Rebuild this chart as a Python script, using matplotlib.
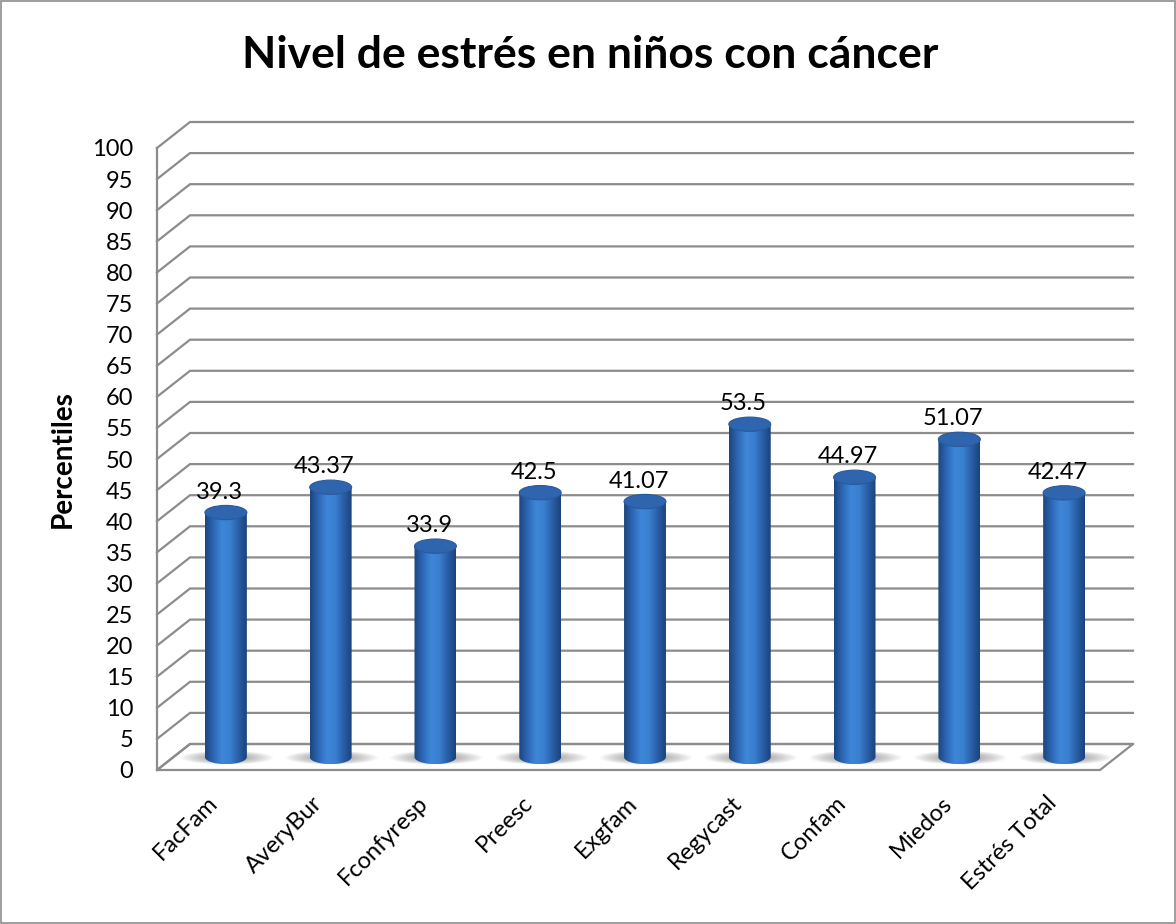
import numpy as np
import matplotlib
matplotlib.use('Agg')
import matplotlib.pyplot as plt
from matplotlib.patches import Ellipse, Polygon, Rectangle
from matplotlib.colors import LinearSegmentedColormap

# ==================== datos ====================
categorias = ['FacFam', 'AveryBur', 'Fconfyresp', 'Preesc', 'Exgfam',
              'Regycast', 'Confam', 'Miedos', 'Estrés Total']
percentiles = [39.3, 43.37, 33.9, 42.5, 41.07, 53.5, 44.97, 51.07, 42.47]
etiquetas = ['39.3', '43.37', '33.9', '42.5', '41.07', '53.5', '44.97', '51.07', '42.47']
yticks = list(range(0, 101, 5))

titulo = 'Nivel de estrés en niños con cáncer'
ylabel = 'Percentiles'

# ==================== estilo ====================
FONT = ['Lato', 'DejaVu Sans']
GRIS = '#8c8c8c'
DX, DY = 0.315, 4.18          # profundidad del efecto 3D (unidades de datos)
HW = 0.20                     # medio ancho del cilindro
EH = 1.15                     # medio alto de la elipse

plt.rcParams['font.family'] = FONT

fig = plt.figure(figsize=(11.76, 9.24), dpi=100)
ax = fig.add_axes([157 / 1176, 154 / 924, 943 / 1176, 622 / 924])
n = len(categorias)
ax.set_xlim(-0.5, n - 0.5)
ax.set_ylim(0, 100)
for s in ax.spines.values():
    s.set_visible(False)

# suelo
x0, x1 = -0.5, n - 0.5
suelo = Polygon([(x0, 0), (x1, 0), (x1 + DX, DY), (x0 + DX, DY)], closed=True,
                facecolor='white', edgecolor=GRIS, lw=1.6, zorder=1, clip_on=False)
ax.add_patch(suelo)

# lineas de la pared del fondo y de la pared izquierda
for v in yticks:
    ax.plot([x0, x0 + DX, x1 + DX], [v, v + DY, v + DY], color=GRIS, lw=1.6,
            zorder=1.5, clip_on=False, solid_joinstyle='miter')
ax.plot([x0, x0], [0, 100], color=GRIS, lw=1.6, zorder=2, clip_on=False)

# cilindros
cmap = LinearSegmentedColormap.from_list(
    'cil', ['#1c467f', '#2c66b4', '#3d86d8', '#3a80d0', '#2a5fa8', '#1b437a'])
grad = np.linspace(0, 1, 128).reshape(1, -1)
t = np.linspace(np.pi, 2 * np.pi, 40)

for i, v in enumerate(percentiles):
    xc = i + DX / 2
    yb = DY / 2
    yt = yb + v
    # sombra difusa sobre el suelo
    for k in range(14):
        f = 1 - k / 14
        sh = Ellipse((xc + 0.01, yb - 0.1), 0.22 + 0.66 * f, 0.8 + 1.4 * f,
                     facecolor='#505050', edgecolor='none', alpha=0.045,
                     zorder=3, clip_on=False)
        ax.add_patch(sh)
    # cuerpo
    verts = [(xc - HW, yt)] + [(xc + HW * np.cos(a), yb + EH * np.sin(a)) for a in t] + [(xc + HW, yt)]
    cuerpo = Polygon(verts, closed=True, facecolor='none', edgecolor='none', zorder=4)
    ax.add_patch(cuerpo)
    im = ax.imshow(grad, cmap=cmap, aspect='auto', extent=[xc - HW, xc + HW, yb - EH, yt],
                   zorder=4, interpolation='bilinear')
    im.set_clip_path(cuerpo)
    # tapa
    tapa = Ellipse((xc, yt), 2 * HW, 2 * EH, facecolor='#2f65ae', edgecolor='#285a9e',
                   lw=0.8, zorder=5)
    ax.add_patch(tapa)
    ax.text(xc - 0.06, yt + 3.3, etiquetas[i], ha='center', va='center',
            fontsize=17, color='black', zorder=6)

ax.set_xlim(-0.5, n - 0.5)
ax.set_ylim(0, 100)

ax.set_yticks(yticks)
ax.set_yticklabels([str(v) for v in yticks], fontsize=17)
ax.set_xticks([i - 0.02 for i in range(n)])
ax.set_xticklabels(categorias, fontsize=17, rotation=45, ha='right',
                   rotation_mode='anchor')
ax.tick_params(axis='y', length=0, pad=17)
ax.tick_params(axis='x', length=0, pad=16)

ax.set_ylabel(ylabel, fontsize=20, fontweight='bold', labelpad=12)
fig.text(0.502, 0.94, titulo, ha='center', va='center', fontsize=32, fontweight='bold')

# borde del grafico
fig.patches.append(Rectangle((0.001, 0.001), 0.998, 0.998, transform=fig.transFigure,
                             fill=False, edgecolor='#8c8c8c', lw=1.2))

fig.savefig('out.png', dpi=100)
